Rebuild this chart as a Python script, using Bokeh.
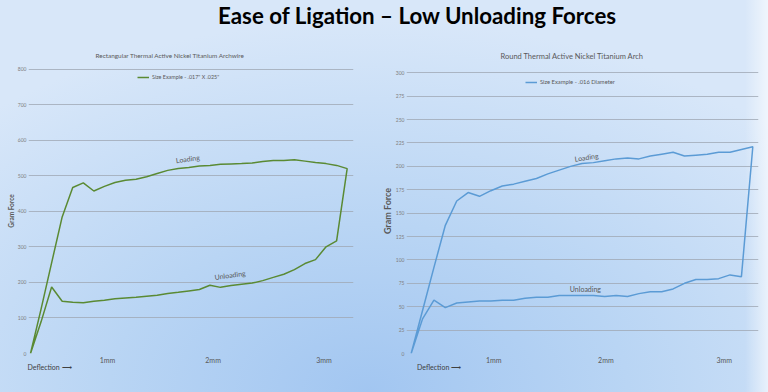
from bokeh.plotting import figure
from bokeh.layouts import column, row
from bokeh.models import Label, Legend, LegendItem, FixedTicker, LinearAxis, Range1d
from bokeh.core.properties import value
from bokeh.embed import file_html
from bokeh.resources import INLINE

# ---------------- data ----------------
main_title = "Ease of Ligation \u2013 Low Unloading Forces"
steps = list(range(31))          # measurement steps along the deflection axis
mm_labels = ["1mm", "2mm", "3mm"]
curve_labels = ["Loading", "Unloading"]
deflection_text = "Deflection \u27F6"

rect_title = "Rectangular Thermal Active Nickel Titanium Archwire"
rect_legend = 'Size Example - .017" X .025"'
rect_loading = [0, 125, 255, 384, 467, 480, 457, 470, 481, 487, 490, 497, 506, 515, 520, 523,
                527, 529, 532, 533, 534, 536, 540, 543, 543, 545, 541, 537, 534, 529, 520]
rect_unloading = [0, 89, 187, 147, 144, 143, 147, 150, 154, 156, 158, 161, 164, 169, 172, 176,
                  180, 192, 186, 191, 195, 198, 205, 214, 223, 236, 253, 264, 300, 317]
rect_yticks = [0, 100, 200, 300, 400, 500, 600, 700, 800]
rect_mm_ticks = [7.3, 17.3, 27.8]
rect_deflection_tick = 1.8
rect_label_x = [14.9, 18.9]
rect_label_y = [548, 221]

round_title = "Round Thermal Active Nickel Titanium Arch"
round_legend = "Size Example - .016 Diameter"
round_loading = [0, 46, 92, 137, 163, 172, 168, 174, 179, 181, 184, 187, 192, 196, 200, 203,
                 204, 206, 208, 209, 208, 211, 213, 215, 211, 212, 213, 215, 215, 218, 221]
round_unloading = [0, 37, 57, 49, 54, 55, 56, 56, 57, 57, 59, 60, 60, 62, 62, 62,
                   62, 61, 62, 61, 64, 66, 66, 69, 75, 79, 79, 80, 84, 82]
round_yticks = [0, 25, 50, 75, 100, 125, 150, 175, 200, 225, 250, 275, 300]
round_mm_ticks = [7.25, 17.1, 27.5]
round_deflection_tick = 2.45
round_label_x = [15.4, 15.3]
round_label_y = [210, 69]

FONT = "Lato"


def make_chart(title, legend_text, loading, unloading, yticks, y_end, mm_ticks, defl_tick,
               lab_x, lab_y, lab_angle, color, size, mb, x_range, title_off,
               title_standoff, title_size, ylab_size, legend_loc, legend_size):
    p = figure(width=size[0], height=size[1],
               min_border_left=mb[0], min_border_right=mb[1],
               min_border_top=mb[2], min_border_bottom=mb[3],
               x_range=x_range, y_range=Range1d(yticks[0], y_end),
               toolbar_location=None, output_backend="svg",
               border_fill_color=None, background_fill_color=None,
               outline_line_color=None)
    # title
    p.title.text = title
    p.title.align = "left"
    p.title.offset = title_off
    p.title.standoff = title_standoff
    p.title.text_font = FONT
    p.title.text_font_size = title_size
    p.title.text_font_style = "normal"
    p.title.text_color = "#595959"

    # axes
    p.xaxis.ticker = FixedTicker(ticks=mm_ticks)
    p.xaxis.major_label_overrides = {t: l for t, l in zip(mm_ticks, mm_labels)}
    p.yaxis.ticker = FixedTicker(ticks=yticks)
    for ax in (p.xaxis[0], p.yaxis[0]):
        ax.axis_line_color = None
        ax.major_tick_line_color = None
        ax.minor_tick_line_color = None
        ax.major_tick_out = 0
        ax.major_tick_in = 0
        ax.minor_tick_out = 0
        ax.major_label_text_font = FONT
    p.xaxis.major_label_text_font_size = "7px"
    p.xaxis.major_label_text_color = "#595959"
    p.xaxis.major_label_standoff = 2
    p.yaxis.major_label_text_font_size = "5px"
    p.yaxis.major_label_text_color = "#7f7f7f"
    p.yaxis.major_label_standoff = 2
    p.yaxis.axis_label = "Gram Force"
    p.yaxis.axis_label_text_font = FONT
    p.yaxis.axis_label_text_font_size = ylab_size
    p.yaxis.axis_label_text_font_style = "bold"
    p.yaxis.axis_label_text_color = "#595959"
    p.yaxis.axis_label_standoff = 0

    # second row under the x axis: "Deflection ->"
    defl = LinearAxis(ticker=FixedTicker(ticks=[defl_tick]),
                      major_label_overrides={defl_tick: deflection_text},
                      axis_line_color=None, major_tick_line_color=None,
                      minor_tick_line_color=None, major_tick_out=0, major_tick_in=0,
                      minor_tick_out=0, major_label_standoff=-4,
                      major_label_text_font=FONT, major_label_text_font_size="7px",
                      major_label_text_color="#404040")
    p.add_layout(defl, "below")

    p.xgrid.visible = False
    p.ygrid.ticker = FixedTicker(ticks=yticks)
    p.ygrid.grid_line_color = "#a0a9b5"
    p.ygrid.grid_line_alpha = 0.8

    # the curve: loading out, unloading back
    xs = steps + steps[len(unloading) - 1::-1]
    ys = loading + unloading[::-1]
    r = p.line(xs, ys, line_color=color, line_width=1.5)

    legend = Legend(items=[LegendItem(label=legend_text, renderers=[r])],
                    location=legend_loc, orientation="horizontal",
                    border_line_color=None, background_fill_alpha=0,
                    label_text_font=FONT, label_text_font_size=legend_size,
                    label_text_color="#595959", glyph_width=12, glyph_height=6,
                    label_height=6, padding=0, margin=0, spacing=0, label_standoff=3)
    p.add_layout(legend)

    p.text(x=lab_x, y=lab_y, text=curve_labels, angle=lab_angle,
           text_font=value(FONT), text_font_size="7px", text_color="#595959",
           text_align="center", text_baseline="middle")
    return p


TITLE_H = 33
CHART_H = 392 - TITLE_H

p1 = make_chart(rect_title, rect_legend, rect_loading, rect_unloading, rect_yticks, 801.5,
                rect_mm_ticks, rect_deflection_tick, rect_label_x, rect_label_y,
                [0.14, 0.14], "#5a8a33", (378, CHART_H), (28, 25, 35, 39), (-0.19, 30.6),
                67, 20, "6.4px", "6.5px", (109, 273), "5.4px")
p2 = make_chart(round_title, round_legend, round_loading, round_unloading, round_yticks, 304.6,
                round_mm_ticks, round_deflection_tick, round_label_x, round_label_y,
                [0.14, 0.0], "#5b9bd5", (390, CHART_H), (28, 10, 35, 39), (-0.41, 30.5),
                94, 16, "7.5px", "9px", (119, 268), "5.8px")

ptitle = figure(width=768, height=TITLE_H, x_range=(0, 768), y_range=(0, TITLE_H),
                toolbar_location=None, output_backend="svg",
                border_fill_color=None, background_fill_color=None, outline_line_color=None,
                min_border=0)
ptitle.axis.visible = False
ptitle.grid.visible = False
ptitle.add_layout(Label(x=417, y=18, text=main_title, text_align="center",
                        text_baseline="middle", text_font=FONT, text_font_size="22.3px",
                        text_font_style="bold", text_color="#000000"))

bg = ("linear-gradient(to right, rgba(255,255,255,0) 97%, rgba(255,255,255,0.6) 100%), "
      "radial-gradient(ellipse 75% 95% at 48% 100%, #a2c6f1 0%, #b9d5f4 45%, #d8e7f9 100%)")
layout = column(ptitle, row(p1, p2), styles={"background": bg})

open("out.html", "w").write(file_html(layout, INLINE))
